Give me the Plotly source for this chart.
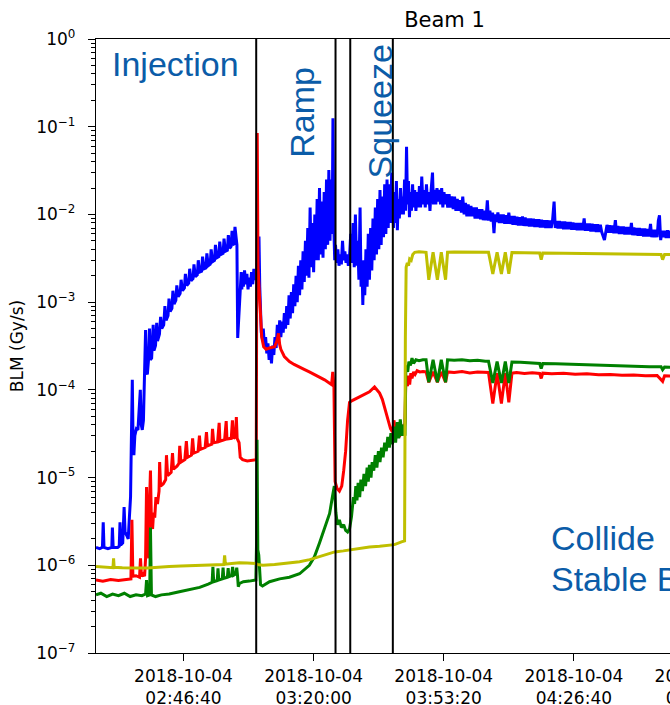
import pandas as pd
import plotly.graph_objects as go

T0 = pd.Timestamp("2018-10-04 02:20:00")

# BLM signals: (minutes after 02:20, dose rate in Gy/s)
blue = [
    (4.25, 1.6e-6), (5.2, 1.55e-6), (5.9, 1.6e-6), (6.1, 3.1e-6), (6.3, 1.6e-6), (7.3, 1.55e-6),
    (8.3, 1.6e-6), (8.45, 2.7e-6), (8.65, 1.6e-6), (9.8, 1.6e-6), (10.2, 1.65e-6), (10.4, 3.1e-6),
    (10.6, 1.7e-6), (11.1, 1.8e-6), (11.45, 4.6e-6), (11.7, 2.4e-6), (12.1, 2.2e-6), (12.5, 2.0e-6),
    (12.8, 3.5e-6), (13.1, 6e-6), (13.3, 2.5e-5), (13.55, 1.3e-4), (13.75, 2.5e-5), (13.95, 1.8e-5),
    (14.2, 3.0e-5), (14.6, 3.6e-5), (15.0, 3.5e-5), (15.35, 7e-5), (15.6, 1.0e-4), (15.85, 4e-5),
    (16.1, 3.5e-5), (16.4, 4.5e-5), (16.7, 1.2e-4), (16.95, 4.8e-4), (17.15, 1.6e-4), (17.4, 1.5e-4),
    (17.7, 2.2e-4), (17.95, 5e-4), (18.15, 2.2e-4), (18.5, 2.3e-4), (18.9, 5.5e-4), (19.1, 2.8e-4),
    (19.5, 3.2e-4), (19.8, 5.8e-4), (20.0, 3.6e-4), (20.5, 4.3e-4), (20.8, 6.8e-4), (21.1, 5e-4),
    (21.6, 5.5e-4), (21.9, 9e-4), (22.2, 6.2e-4), (22.7, 7e-4), (22.95, 1.1e-3), (23.25, 7.8e-4),
    (23.7, 8.5e-4), (23.95, 1.35e-3), (24.25, 9.5e-4), (24.7, 1.05e-3), (24.95, 1.55e-3), (25.3, 1.15e-3),
    (25.8, 1.25e-3), (26.05, 1.8e-3), (26.4, 1.35e-3), (26.9, 1.45e-3), (27.15, 2.1e-3), (27.5, 1.55e-3),
    (28.0, 1.65e-3), (28.25, 2.4e-3), (28.6, 1.75e-3), (29.1, 1.85e-3), (29.35, 2.7e-3), (29.7, 1.95e-3),
    (30.2, 2.05e-3), (30.45, 3.0e-3), (30.8, 2.2e-3), (31.3, 2.25e-3), (31.55, 3.3e-3), (31.9, 2.4e-3),
    (32.4, 2.45e-3), (32.65, 3.6e-3), (33.0, 2.6e-3), (33.5, 2.7e-3), (33.75, 4.0e-3), (34.1, 2.9e-3),
    (34.6, 3.0e-3), (34.85, 4.5e-3), (35.2, 3.2e-3), (35.7, 3.3e-3), (35.95, 4.9e-3), (36.3, 3.5e-3),
    (36.8, 3.6e-3), (37.05, 5.3e-3), (37.4, 3.8e-3), (37.9, 3.9e-3), (38.15, 5.8e-3), (38.5, 4.1e-3),
    (38.85, 4.3e-3), (39.1, 6.5e-3), (39.3, 4.5e-3), (39.6, 4.6e-3), (39.85, 7.2e-3), (40.1, 5.0e-3),
    (40.35, 4.5e-3), (40.55, 3.9e-4), (40.75, 6e-4), (41.0, 1.1e-3), (41.2, 1.6e-3), (41.45, 2.2e-3),
    (41.6, 1.4e-3), (41.8, 2.0e-3), (42.0, 1.5e-3), (42.3, 2.3e-3), (42.6, 1.6e-3), (42.9, 2.1e-3),
    (43.2, 1.4e-3), (43.5, 1.9e-3), (43.8, 1.5e-3), (44.1, 2.2e-3), (44.4, 1.6e-3), (44.7, 2.4e-3),
    (45.0, 1.8e-3), (45.3, 2.0e-3),
    (45.45, 2.3e-3), (45.6, 4e-3), (45.8, 2.5e-3), (46.0, 5.6e-3), (46.2, 1.5e-3), (46.4, 8e-4),
    (46.6, 4.5e-4), (46.9, 3.8e-4), (47.1, 5e-4), (47.4, 3.2e-4), (47.7, 4e-4), (48.0, 2.6e-4),
    (48.3, 3.4e-4), (48.6, 2.2e-4), (48.9, 3e-4), (49.2, 2e-4), (49.5, 3.2e-4), (49.8, 2.5e-4),
    (50.1, 4e-4), (50.4, 3e-4), (50.7, 5.5e-4), (51.0, 3.5e-4), (51.3, 6.2e-4), (51.6, 4e-4),
    (51.9, 6e-4), (52.2, 4.5e-4), (52.5, 7.5e-4), (52.8, 5e-4), (53.1, 9e-4), (53.4, 5.5e-4),
    (53.7, 1.2e-3), (54.0, 6.5e-4), (54.3, 1.3e-3), (54.6, 7.5e-4), (54.9, 1.6e-3), (55.2, 9e-4),
    (55.5, 2e-3), (55.8, 1e-3), (56.1, 2.6e-3), (56.4, 1.2e-3), (56.7, 3e-3), (57.0, 1.4e-3),
    (57.3, 3.8e-3), (57.6, 1.7e-3), (57.9, 5e-3), (58.2, 2e-3), (58.5, 7e-3), (58.8, 1.9e-3),
    (59.1, 1.2e-2), (59.4, 2.5e-3), (59.7, 8e-3), (60.0, 2.2e-3), (60.3, 1e-2), (60.6, 3e-3),
    (60.9, 1.5e-2), (61.2, 3e-3), (61.5, 2e-2), (61.8, 3.5e-3), (62.1, 1.4e-2), (62.4, 3.2e-3),
    (62.7, 1.8e-2), (63.0, 4e-3), (63.3, 2.5e-2), (63.6, 4.5e-3), (63.9, 3.2e-2), (64.2, 5e-3),
    (64.5, 2.5e-2), (64.75, 6e-3), (64.95, 1.25e-1), (65.15, 8e-3), (65.4, 3e-3), (65.6, 4.5e-3),
    (65.9, 2.8e-3), (66.2, 4e-3), (66.5, 2.6e-3), (66.8, 3.5e-3), (67.1, 2.7e-3), (67.4, 5e-3),
    (67.7, 3e-3), (68.0, 3.8e-3), (68.3, 2.8e-3), (68.6, 3.5e-3), (68.9, 2.6e-3), (69.2, 3.3e-3),
    (69.5, 6e-3), (69.8, 2.8e-3), (70.1, 8e-3), (70.4, 2.5e-3), (70.7, 1e-2), (71.0, 2.6e-3),
    (71.3, 5e-3), (71.6, 1.8e-3), (71.9, 1.2e-2), (72.15, 1.5e-3), (72.4, 2.5e-3), (72.6, 9.3e-4),
    (72.85, 3e-3), (73.1, 1.2e-3), (73.4, 4e-3), (73.7, 1.5e-3), (74.0, 6e-3), (74.3, 1.8e-3),
    (74.6, 7e-3), (74.9, 2.3e-3), (75.2, 9e-3), (75.5, 3e-3), (75.8, 1.2e-2), (76.1, 3.5e-3),
    (76.4, 1.5e-2), (76.7, 4e-3), (77.0, 1.9e-2), (77.3, 4.5e-3), (77.6, 1.6e-2), (77.9, 5.5e-3),
    (78.2, 2.2e-2), (78.5, 6e-3), (78.8, 2.5e-2), (79.1, 7e-3), (79.4, 2.2e-2), (79.7, 8e-3),
    (80.0, 3e-2), (80.25, 1.2e-2),
    (80.45, 7e-3), (80.7, 1.8e-2), (80.95, 8e-3), (81.2, 2.4e-2), (81.45, 6.6e-3), (81.7, 1.5e-2),
    (81.95, 9e-3), (82.25, 2e-2), (82.5, 1e-2), (82.75, 1.6e-2), (83.0, 1e-2), (83.3, 2.5e-2),
    (83.55, 1.1e-2), (83.8, 5.9e-2), (84.05, 1.3e-2), (84.3, 2.4e-2), (84.55, 9.3e-3), (84.8, 1.8e-2),
    (85.05, 1.1e-2), (85.35, 2.2e-2), (85.6, 1.2e-2), (85.9, 1.9e-2), (86.2, 1.1e-2), (86.5, 1.8e-2),
    (86.8, 1.2e-2), (87.1, 2.1e-2), (87.4, 1.2e-2), (87.7, 2.7e-2), (88.0, 1.3e-2), (88.3, 1.9e-2),
    (88.6, 1.2e-2), (88.9, 2.2e-2), (89.2, 1.3e-2), (89.5, 1.8e-2), (89.8, 1.1e-2), (90.1, 1.9e-2),
    (90.45, 3e-2), (90.7, 1.3e-2), (91.0, 1.9e-2), (91.3, 1.3e-2), (91.6, 2e-2), (91.9, 1.4e-2),
    (92.2, 1.9e-2), (92.5, 1.3e-2), (92.8, 2e-2), (93.1, 1.2e-2), (93.4, 1.8e-2), (93.7, 1.3e-2),
    (94.0, 1.7e-2), (94.35, 1.2e-2), (94.7, 1.7e-2), (95.05, 1.2e-2), (95.4, 1.6e-2), (95.75, 1.15e-2),
    (96.1, 1.6e-2), (96.45, 1.1e-2), (96.8, 1.5e-2), (97.15, 1.1e-2), (97.5, 1.45e-2), (97.85, 1.05e-2),
    (98.2, 1.6e-2), (98.55, 1.0e-2), (98.9, 1.35e-2), (99.25, 9.5e-3), (99.6, 1.3e-2), (99.95, 9.5e-3),
    (100.3, 1.25e-2), (100.65, 9.5e-3), (101.0, 1.2e-2), (101.35, 9e-3), (101.7, 1.2e-2), (102.05, 9e-3),
    (102.4, 1.15e-2), (102.75, 8.8e-3), (103.1, 1.15e-2), (103.45, 8.6e-3), (103.8, 1.1e-2), (104.15, 8.6e-3),
    (104.5, 1.45e-2), (104.8, 8.5e-3), (105.15, 1.1e-2), (105.5, 8.3e-3), (105.85, 1.05e-2), (106.2, 6.1e-3),
    (106.5, 1.0e-2), (106.85, 8.2e-3), (107.2, 1.05e-2), (107.55, 8e-3), (107.9, 1e-2), (108.25, 8e-3),
    (108.6, 1e-2), (108.95, 7.8e-3), (109.3, 9.8e-3), (109.65, 7.8e-3), (110.0, 1.05e-2), (110.35, 7.8e-3),
    (110.7, 9.6e-3), (111.05, 7.6e-3), (111.4, 9.6e-3), (111.75, 7.6e-3), (112.1, 9.4e-3), (112.45, 7.5e-3),
    (112.8, 9.3e-3), (113.15, 7.5e-3), (113.5, 9.5e-3), (113.85, 7.4e-3), (114.2, 9.2e-3), (114.55, 7.4e-3),
    (114.9, 9e-3), (115.25, 7.3e-3), (115.6, 9e-3), (115.95, 7.3e-3), (116.3, 8.9e-3), (116.65, 7.2e-3),
    (117.0, 8.8e-3), (117.35, 7.2e-3), (117.7, 8.8e-3), (118.05, 7.1e-3), (118.4, 8.7e-3), (118.75, 7.1e-3),
    (119.1, 8.6e-3), (119.45, 7e-3), (119.8, 8.6e-3), (120.15, 7e-3), (120.5, 8.5e-3), (120.85, 7e-3),
    (121.2, 8.5e-3), (121.6, 1.4e-2), (121.9, 7e-3), (122.25, 8.4e-3), (122.6, 6.9e-3), (122.95, 8.4e-3),
    (123.3, 6.9e-3), (123.65, 8.3e-3), (124.0, 6.8e-3), (124.35, 8.3e-3), (124.7, 6.8e-3), (125.05, 8.2e-3),
    (125.4, 6.8e-3), (125.75, 8.2e-3), (126.1, 6.7e-3), (126.45, 8.1e-3), (126.8, 6.7e-3), (127.15, 8e-3),
    (127.5, 6.6e-3), (127.85, 8e-3), (128.2, 6.6e-3), (128.55, 8e-3), (128.9, 6.6e-3), (129.3, 9e-3),
    (129.6, 6.5e-3), (129.95, 7.9e-3), (130.3, 6.5e-3), (130.65, 7.9e-3), (131.0, 6.4e-3), (131.35, 7.8e-3),
    (131.7, 6.4e-3), (132.05, 7.7e-3), (132.4, 6.3e-3), (132.75, 7.7e-3), (133.1, 6.3e-3), (133.45, 7.6e-3),
    (133.8, 6.3e-3), (134.5, 5.1e-3), (134.8, 6.3e-3), (135.15, 7.6e-3), (135.5, 6.2e-3), (135.85, 7.5e-3),
    (136.2, 6.2e-3), (136.55, 7.5e-3), (136.9, 6.1e-3), (137.3, 8.6e-3), (137.6, 6.1e-3), (137.95, 7.4e-3),
    (138.3, 6e-3), (138.65, 7.3e-3), (139.0, 6e-3), (139.35, 7.3e-3), (139.7, 5.9e-3), (140.05, 7.2e-3),
    (140.4, 5.9e-3), (140.75, 7.2e-3), (141.1, 5.9e-3), (141.4, 8e-3), (141.7, 5.8e-3), (142.05, 7.1e-3),
    (142.4, 5.8e-3), (142.75, 7e-3), (143.1, 5.7e-3), (143.45, 7e-3), (143.8, 5.7e-3), (144.15, 6.9e-3),
    (144.5, 5.6e-3), (144.85, 6.9e-3), (145.2, 5.6e-3), (145.55, 6.8e-3), (145.9, 5.6e-3), (146.3, 7.8e-3),
    (146.6, 5.5e-3), (146.95, 6.7e-3), (147.3, 5.5e-3), (147.65, 6.7e-3), (148.0, 5.5e-3), (148.3, 8.5e-3),
    (148.6, 9.8e-3), (148.9, 5.1e-3), (149.25, 6.5e-3), (149.6, 5.5e-3), (149.95, 6.5e-3), (150.3, 5.4e-3),
    (150.65, 6.6e-3), (151.0, 5.4e-3), (151.35, 6.5e-3), (152.0, 5.4e-3), (154.0, 6.4e-3), (156.0, 5.3e-3),
    (158.0, 6.3e-3), (161.0, 5.3e-3), (164.0, 6.2e-3), (167.0, 5.2e-3), (170.0, 6.1e-3), (173.0, 5.2e-3),
    (176.0, 6e-3), (179.0, 5.1e-3), (182.8, 5.6e-3),
]

red = [
    (4.25, 6.8e-7), (6.0, 6.6e-7), (8.0, 6.9e-7), (10.0, 6.7e-7), (12.0, 6.9e-7), (13.2, 7e-7),
    (13.45, 3.3e-6), (13.7, 7.5e-7), (14.5, 7.6e-7), (15.4, 7.3e-7), (15.65, 1.2e-6), (15.9, 7.5e-7),
    (16.4, 8e-7), (16.7, 7.5e-7), (16.95, 1.2e-6), (17.2, 7.8e-6), (17.45, 2.5e-6), (17.75, 1.2e-6),
    (17.95, 5e-6), (18.2, 1.2e-5), (18.45, 3e-6), (18.75, 2.6e-6), (19.0, 4e-6), (19.3, 3.5e-6),
    (19.6, 6e-6), (20.0, 5e-6), (20.4, 7e-6), (20.55, 1.5e-5), (20.8, 8e-6), (21.5, 8.5e-6),
    (22.1, 9.5e-6), (22.3, 1.8e-5), (22.6, 1.05e-5), (23.5, 1.15e-5), (23.85, 1.9e-5), (24.1, 1.25e-5),
    (25.0, 1.35e-5), (25.5, 1.45e-5), (25.7, 2.3e-5), (26.0, 1.5e-5), (27.0, 1.6e-5), (27.4, 2.6e-5),
    (27.7, 1.7e-5), (28.7, 1.8e-5), (29.0, 2.8e-5), (29.3, 1.9e-5), (30.4, 2e-5), (30.75, 3e-5),
    (31.0, 2.1e-5), (32.2, 2.2e-5), (32.55, 3.3e-5), (32.8, 2.3e-5), (33.9, 2.4e-5), (34.1, 3.6e-5),
    (34.4, 2.5e-5), (35.4, 2.55e-5), (35.8, 4.2e-5), (36.0, 2.6e-5), (37.2, 2.7e-5), (37.6, 4.4e-5),
    (37.8, 2.75e-5), (38.9, 2.8e-5), (39.2, 4.5e-5), (39.5, 2.8e-5), (40.0, 2.9e-5), (40.2, 4.9e-5),
    (40.4, 2.8e-5), (40.9, 2.5e-5), (41.2, 1.7e-5), (41.8, 1.6e-5), (43.0, 1.55e-5), (44.5, 1.6e-5),
    (45.3, 1.6e-5), (45.45, 5e-3), (45.55, 8.5e-2), (45.75, 2.5e-3), (46.0, 1.5e-3), (46.4, 8e-4),
    (46.7, 4e-4), (47.2, 3.1e-4), (47.8, 2.9e-4), (48.7, 3e-4), (50.0, 3.1e-4), (50.6, 3.6e-4),
    (51.0, 4.4e-4), (51.3, 3.3e-4), (51.6, 2.9e-4), (52.5, 2.4e-4), (53.8, 2.1e-4), (55.0, 1.95e-4),
    (56.4, 1.8e-4), (57.7, 1.7e-4), (58.9, 1.6e-4), (60.2, 1.5e-4), (61.5, 1.4e-4), (62.8, 1.3e-4),
    (64.0, 1.2e-4), (64.6, 1.15e-4), (64.9, 1.6e-4), (65.2, 1.1e-4), (65.5, 9e-6), (66.0, 7.5e-6),
    (66.6, 7e-6), (67.2, 8e-6), (67.7, 1.2e-5), (68.2, 2e-5), (68.7, 4.5e-5), (69.2, 7.2e-5),
    (70.0, 7.6e-5), (71.8, 8.4e-5), (73.0, 8.8e-5), (74.3, 9.5e-5), (75.6, 1.08e-4), (76.9, 9.2e-5),
    (77.6, 7.8e-5), (78.2, 6.3e-5), (79.2, 4.5e-5), (79.7, 3.6e-5), (80.2, 3.3e-5), (80.6, 4.5e-5),
    (81.0, 3e-5), (81.5, 4.2e-5), (82.0, 2.9e-5), (82.5, 4e-5), (83.0, 3.2e-5), (83.4, 4.2e-5),
    (83.6, 1.2e-4), (83.8, 1.4e-4), (84.05, 1.1e-4), (84.3, 1.45e-4), (84.6, 1.15e-4), (84.9, 1.55e-4),
    (85.2, 1.35e-4), (85.6, 1.6e-4), (86.0, 1.5e-4), (86.5, 1.65e-4), (87.2, 1.6e-4), (88.0, 1.62e-4),
    (88.8, 1.6e-4), (89.5, 1.22e-4), (90.6, 1.6e-4), (91.7, 1.22e-4), (92.7, 1.6e-4), (93.8, 1.22e-4),
    (94.3, 1.6e-4), (96.0, 1.58e-4), (98.0, 1.62e-4), (100.0, 1.56e-4), (102.0, 1.6e-4), (104.0, 1.57e-4),
    (104.8, 1.58e-4), (105.9, 7e-5), (107.0, 1.55e-4), (108.1, 7e-5), (109.1, 1.55e-4), (110.0, 7.2e-5),
    (110.8, 1.55e-4), (112.0, 1.58e-4), (114.0, 1.54e-4), (116.0, 1.57e-4), (117.9, 1.54e-4), (118.3, 1.35e-4),
    (118.7, 1.55e-4), (121.0, 1.53e-4), (124.0, 1.55e-4), (127.0, 1.51e-4), (130.0, 1.53e-4), (133.0, 1.49e-4),
    (136.0, 1.5e-4), (139.0, 1.47e-4), (142.0, 1.48e-4), (145.0, 1.45e-4), (148.0, 1.46e-4), (149.4, 1.25e-4),
    (149.9, 1.45e-4), (152.0, 1.44e-4), (160.0, 1.42e-4), (170.0, 1.4e-4), (182.8, 1.38e-4),
]

green = [
    (4.25, 4.6e-7), (5.5, 4.8e-7), (7.0, 4.4e-7), (8.5, 4.7e-7), (10.0, 4.5e-7), (11.5, 4.8e-7),
    (13.0, 4.4e-7), (14.5, 4.6e-7), (16.0, 4.5e-7), (16.95, 4.7e-7), (17.2, 6.8e-7), (17.45, 4.5e-7),
    (18.0, 4.6e-7), (18.2, 2.7e-6), (18.45, 4.6e-7), (19.5, 4.4e-7), (21.0, 4.6e-7), (23.0, 4.7e-7),
    (25.6, 5e-7), (28.0, 5.3e-7), (30.8, 5.6e-7), (33.0, 6.1e-7), (34.0, 6.4e-7), (34.2, 9.6e-7),
    (34.4, 6.5e-7), (35.3, 6.7e-7), (35.5, 9.2e-7), (35.7, 6.8e-7), (36.6, 7e-7), (36.8, 9.4e-7),
    (37.0, 7.1e-7), (37.9, 7.3e-7), (38.1, 9.3e-7), (38.3, 7.4e-7), (39.0, 7.6e-7), (39.25, 9.6e-7),
    (39.5, 7.7e-7), (40.1, 8e-7), (40.3, 9.4e-7), (40.5, 7.6e-7), (40.7, 5.7e-7), (41.0, 6.2e-7),
    (42.0, 6.5e-7), (43.5, 6.6e-7), (45.2, 6.8e-7), (45.4, 2e-6), (45.5, 2.7e-5), (45.7, 1.5e-6),
    (45.95, 1.3e-6), (46.4, 6e-7), (46.9, 5.8e-7), (48.7, 6.5e-7), (51.3, 7e-7), (53.8, 7.3e-7),
    (56.4, 8e-7), (58.9, 1e-6), (60.2, 1.25e-6), (61.5, 1.8e-6), (62.8, 2.7e-6), (64.1, 3.9e-6),
    (64.8, 6e-6), (65.3, 8e-6), (65.7, 4e-6), (66.1, 2.9e-6), (66.6, 3.3e-6), (67.1, 2.7e-6),
    (67.7, 2.9e-6), (68.2, 2.5e-6), (68.7, 2.4e-6), (69.2, 2.6e-6), (69.7, 3.6e-6), (70.2, 6e-6),
    (70.5, 5e-6), (70.8, 8e-6), (71.1, 5.5e-6), (71.4, 8.7e-6), (71.8, 6e-6), (72.1, 9.5e-6),
    (72.5, 7e-6), (72.9, 1.1e-5), (73.3, 8e-6), (73.7, 1.3e-5), (74.0, 9e-6), (74.3, 1.4e-5),
    (74.7, 1e-5), (75.0, 1.5e-5), (75.4, 1.2e-5), (75.8, 1.8e-5), (76.2, 1.3e-5), (76.6, 2e-5),
    (77.0, 1.5e-5), (77.4, 2.2e-5), (77.8, 1.7e-5), (78.2, 2.5e-5), (78.6, 2e-5), (79.0, 2.9e-5),
    (79.4, 2.2e-5), (79.8, 3.2e-5), (80.2, 2.4e-5), (80.6, 3.8e-5), (81.0, 2.5e-5), (81.4, 4.3e-5),
    (81.8, 2.8e-5), (82.2, 4.6e-5), (82.6, 3e-5), (83.0, 4e-5), (83.4, 3e-5), (83.6, 1.6e-4),
    (83.85, 1.9e-4), (84.1, 1.6e-4), (84.4, 2.1e-4), (84.8, 1.9e-4), (85.2, 2.3e-4), (85.6, 2e-4),
    (86.2, 2.2e-4), (87.0, 2.15e-4), (88.0, 2.2e-4), (88.8, 2.2e-4), (89.5, 1.22e-4), (90.6, 2.2e-4),
    (91.7, 1.22e-4), (92.7, 2.2e-4), (93.8, 1.22e-4), (94.3, 2.2e-4), (96.0, 2.18e-4), (98.0, 2.2e-4),
    (100.0, 2.15e-4), (102.0, 2.17e-4), (104.0, 2.12e-4), (104.8, 2.12e-4), (105.9, 1.2e-4), (107.0, 2.1e-4),
    (108.1, 1.2e-4), (109.1, 2.1e-4), (110.0, 1.2e-4), (110.8, 2.08e-4), (113.0, 2.06e-4), (116.0, 2.03e-4),
    (117.9, 2.0e-4), (118.3, 1.75e-4), (118.7, 2.0e-4), (122.0, 1.98e-4), (126.0, 1.95e-4), (130.0, 1.93e-4),
    (134.0, 1.9e-4), (138.0, 1.88e-4), (142.0, 1.86e-4), (146.0, 1.84e-4), (149.0, 1.83e-4), (149.4, 1.7e-4),
    (149.9, 1.82e-4), (152.0, 1.81e-4), (160.0, 1.78e-4), (170.0, 1.75e-4), (182.8, 1.72e-4),
]

yellow = [
    (4.25, 9.7e-7), (6.0, 9.6e-7), (8.0, 9.5e-7), (8.6, 9.4e-7), (8.75, 1.2e-6), (8.9, 9.5e-7),
    (11.0, 9.4e-7), (13.0, 9.3e-7), (15.0, 9.3e-7), (17.5, 9.3e-7), (20.0, 9.5e-7), (23.0, 9.7e-7),
    (26.0, 9.8e-7), (29.0, 9.9e-7), (31.0, 1e-6), (34.0, 1.01e-6), (37.0, 1.02e-6), (37.2, 1.3e-6),
    (37.4, 1.03e-6), (39.0, 1.05e-6), (41.0, 1.07e-6), (43.0, 1.06e-6), (45.2, 1.05e-6), (45.6, 1.02e-6),
    (47.0, 1e-6), (50.0, 1.02e-6), (53.0, 1.05e-6), (56.4, 1.1e-6), (59.0, 1.16e-6), (61.5, 1.25e-6),
    (64.0, 1.35e-6), (65.4, 1.42e-6), (67.6, 1.46e-6), (69.2, 1.5e-6), (71.8, 1.58e-6), (74.3, 1.62e-6),
    (76.9, 1.65e-6), (79.4, 1.68e-6), (80.7, 1.72e-6), (82.5, 1.85e-6), (83.3, 1.9e-6), (83.5, 4e-4),
    (83.7, 2.5e-3), (84.0, 2.8e-3), (84.3, 2.6e-3), (84.6, 3.1e-3), (85.0, 3.0e-3), (85.4, 3.5e-3),
    (85.9, 3.7e-3), (87.0, 3.75e-3), (88.8, 3.7e-3), (89.5, 1.8e-3), (90.6, 3.7e-3), (91.7, 1.8e-3),
    (92.7, 3.7e-3), (93.8, 1.8e-3), (94.3, 3.7e-3), (96.0, 3.72e-3), (100.0, 3.7e-3), (104.8, 3.7e-3),
    (105.9, 2.1e-3), (107.0, 3.7e-3), (108.1, 2.1e-3), (109.1, 3.7e-3), (110.0, 2.1e-3), (110.8, 3.68e-3),
    (114.0, 3.66e-3), (117.9, 3.64e-3), (118.3, 3.05e-3), (118.7, 3.63e-3), (124.0, 3.6e-3), (130.0, 3.57e-3),
    (136.0, 3.55e-3), (142.0, 3.53e-3), (149.0, 3.5e-3), (149.4, 3.05e-3), (149.9, 3.5e-3), (160.0, 3.47e-3),
    (170.0, 3.45e-3), (182.8, 3.42e-3),
]

series_colors = {"blue": "#0000ff", "red": "#ff0000", "green": "#008000", "yellow": "#bfbf00"}

# Beam-mode transitions (minutes after 02:20)
phase_edges = [45.29, 65.61, 69.38, 80.29]
phase_labels = [
    ("Injection", 7.75, -0.285, 0, "left"),
    ("Ramp", 57.0, -0.83, -90, "center"),
    ("Squeeze", 76.9, -0.83, -90, "center"),
    ("Collide", 120.2, -5.69, 0, "left"),
    ("Stable Beams", 120.2, -6.157, 0, "left"),
]

x_window = (4.25, 182.8)
x_tick_times = ["02:46:40", "03:20:00", "03:53:20", "04:26:40", "05:00:00"]
y_decades = list(range(-7, 1))


def to_time(minutes):
    return T0 + pd.to_timedelta(minutes, unit="min")


fig = go.Figure()
for name, pts in (("blue", blue), ("red", red), ("green", green), ("yellow", yellow)):
    t, v = zip(*pts)
    fig.add_trace(go.Scatter(
        x=[to_time(m) for m in t], y=list(v), mode="lines", name=name,
        line=dict(color=series_colors[name], width=3), showlegend=False,
    ))

for m in phase_edges:
    fig.add_shape(type="line", xref="x", yref="paper", x0=to_time(m), x1=to_time(m),
                  y0=0, y1=1, line=dict(color="black", width=2))

for text, m, ylog, angle, anchor in phase_labels:
    fig.add_annotation(x=to_time(m), y=ylog, xref="x", yref="y", text=text, showarrow=False,
                       textangle=angle, xanchor=anchor, yanchor="middle",
                       font=dict(family="Liberation Sans, Arial", size=34, color="#0b5ca8"))

tick_font = dict(family="DejaVu Sans", size=17, color="black")
fig.update_xaxes(
    type="date", range=[to_time(x_window[0]), to_time(x_window[1])],
    tickmode="array",
    tickvals=[pd.Timestamp("2018-10-04 " + s) for s in x_tick_times],
    ticktext=["2018-10-04<br>" + s for s in x_tick_times],
    ticks="outside", ticklen=7, tickwidth=1.2, tickcolor="black",
    showline=True, linecolor="black", linewidth=1.3, mirror=True,
    showgrid=False, zeroline=False, tickfont=tick_font,
)
fig.update_yaxes(
    type="log", range=[-7, 0], tickmode="array",
    tickvals=[10.0 ** d for d in y_decades],
    ticktext=["10<sup>%s</sup>" % (("\u2212%d" % -d) if d < 0 else "0") for d in y_decades],
    ticks="outside", ticklen=7, tickwidth=1.2, tickcolor="black", ticklabelstandoff=9,
    minor=dict(ticks="outside", ticklen=4, tickwidth=1, tickcolor="black",
               tickmode="array",
               tickvals=[k * 10.0 ** d for d in y_decades[:-1] for k in range(2, 10)]),
    showline=True, linecolor="black", linewidth=1.3, mirror=True,
    showgrid=False, zeroline=False, tickfont=tick_font,
    title=dict(text="BLM (Gy/s)", font=tick_font, standoff=8),
)

fig.update_layout(
    width=814, height=705,
    margin=dict(l=96, r=21, t=39, b=52, autoexpand=False),
    paper_bgcolor="white", plot_bgcolor="white",
    title=dict(text="Beam 1", x=0.5, xref="paper", xanchor="center",
               y=1 - 20 / 705, yref="container", yanchor="middle",
               font=dict(family="DejaVu Sans", size=21, color="black")),
)

fig.write_html(
    "out.html",
    post_script="document.documentElement.style.overflow='hidden';"
                "document.body.style.overflow='hidden';document.body.style.margin='0';",
)
